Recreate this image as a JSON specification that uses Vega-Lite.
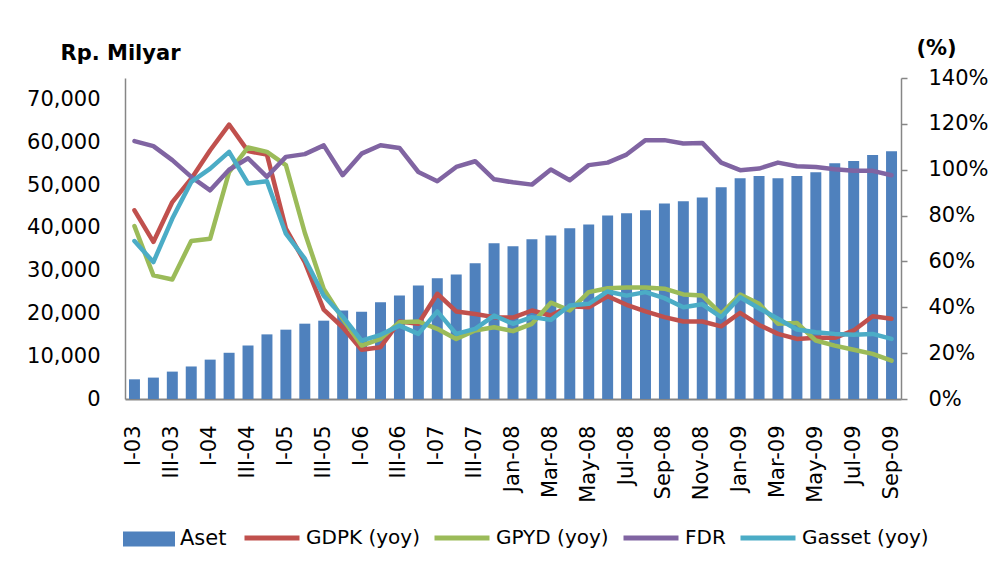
{
  "$schema": "https://vega.github.io/schema/vega-lite/v6.json",
  "width": 776,
  "height": 321,
  "autosize": {"type": "none"},
  "padding": {"left": 125, "top": 78, "right": 91, "bottom": 170},
  "background": "white",
  "config": {
    "view": {"stroke": null},
    "font": "DejaVu Sans",
    "axis": {"grid": false, "labelFont": "DejaVu Sans", "labelColor": "#000", "titleFont": "DejaVu Sans", "titleColor": "#000", "domainColor": "#868686", "tickColor": "#868686"},
    "legend": {"labelFont": "DejaVu Sans", "labelColor": "#000"}
  },
  "datasets": {
    "bars": [
      {"p": "I-03", "aset": 4600}, {"p": "II-03", "aset": 5000}, {"p": "III-03", "aset": 6400}, {"p": "IV-03", "aset": 7600},
      {"p": "I-04", "aset": 9200}, {"p": "II-04", "aset": 10800}, {"p": "III-04", "aset": 12500}, {"p": "IV-04", "aset": 15100},
      {"p": "I-05", "aset": 16200}, {"p": "II-05", "aset": 17600}, {"p": "III-05", "aset": 18300}, {"p": "IV-05", "aset": 20700},
      {"p": "I-06", "aset": 20400}, {"p": "II-06", "aset": 22600}, {"p": "III-06", "aset": 24200}, {"p": "IV-06", "aset": 26500},
      {"p": "I-07", "aset": 28200}, {"p": "II-07", "aset": 29100}, {"p": "III-07", "aset": 31700}, {"p": "IV-07", "aset": 36400},
      {"p": "Jan-08", "aset": 35700}, {"p": "Feb-08", "aset": 37300}, {"p": "Mar-08", "aset": 38200}, {"p": "Apr-08", "aset": 39900},
      {"p": "May-08", "aset": 40800}, {"p": "Jun-08", "aset": 42900}, {"p": "Jul-08", "aset": 43400}, {"p": "Aug-08", "aset": 44100},
      {"p": "Sep-08", "aset": 45700}, {"p": "Oct-08", "aset": 46200}, {"p": "Nov-08", "aset": 47100}, {"p": "Dec-08", "aset": 49500},
      {"p": "Jan-09", "aset": 51600}, {"p": "Feb-09", "aset": 52100}, {"p": "Mar-09", "aset": 51600}, {"p": "Apr-09", "aset": 52100},
      {"p": "May-09", "aset": 53000}, {"p": "Jun-09", "aset": 55100}, {"p": "Jul-09", "aset": 55600}, {"p": "Aug-09", "aset": 57000},
      {"p": "Sep-09", "aset": 57900}
    ],
    "lines": [
      {"p": "I-03", "s": "GDPK (yoy)", "v": 82.3}, {"p": "II-03", "s": "GDPK (yoy)", "v": 68.5}, {"p": "III-03", "s": "GDPK (yoy)", "v": 85.9}, {"p": "IV-03", "s": "GDPK (yoy)", "v": 96.1},
      {"p": "I-04", "s": "GDPK (yoy)", "v": 108.5}, {"p": "II-04", "s": "GDPK (yoy)", "v": 119.7}, {"p": "III-04", "s": "GDPK (yoy)", "v": 108.1}, {"p": "IV-04", "s": "GDPK (yoy)", "v": 106.6},
      {"p": "I-05", "s": "GDPK (yoy)", "v": 74.3}, {"p": "II-05", "s": "GDPK (yoy)", "v": 59.7}, {"p": "III-05", "s": "GDPK (yoy)", "v": 39}, {"p": "IV-05", "s": "GDPK (yoy)", "v": 31.3},
      {"p": "I-06", "s": "GDPK (yoy)", "v": 21.5}, {"p": "II-06", "s": "GDPK (yoy)", "v": 22.6}, {"p": "III-06", "s": "GDPK (yoy)", "v": 33.8}, {"p": "IV-06", "s": "GDPK (yoy)", "v": 32.8},
      {"p": "I-07", "s": "GDPK (yoy)", "v": 45.9}, {"p": "II-07", "s": "GDPK (yoy)", "v": 38.2}, {"p": "III-07", "s": "GDPK (yoy)", "v": 37.1}, {"p": "IV-07", "s": "GDPK (yoy)", "v": 35.7},
      {"p": "Jan-08", "s": "GDPK (yoy)", "v": 35.5}, {"p": "Feb-08", "s": "GDPK (yoy)", "v": 38.6}, {"p": "Mar-08", "s": "GDPK (yoy)", "v": 36.4}, {"p": "Apr-08", "s": "GDPK (yoy)", "v": 40.5},
      {"p": "May-08", "s": "GDPK (yoy)", "v": 40}, {"p": "Jun-08", "s": "GDPK (yoy)", "v": 44.8}, {"p": "Jul-08", "s": "GDPK (yoy)", "v": 41.1}, {"p": "Aug-08", "s": "GDPK (yoy)", "v": 38.2},
      {"p": "Sep-08", "s": "GDPK (yoy)", "v": 35.7}, {"p": "Oct-08", "s": "GDPK (yoy)", "v": 33.8}, {"p": "Nov-08", "s": "GDPK (yoy)", "v": 33.8}, {"p": "Dec-08", "s": "GDPK (yoy)", "v": 31.7},
      {"p": "Jan-09", "s": "GDPK (yoy)", "v": 37.6}, {"p": "Feb-09", "s": "GDPK (yoy)", "v": 32.3}, {"p": "Mar-09", "s": "GDPK (yoy)", "v": 28.4}, {"p": "Apr-09", "s": "GDPK (yoy)", "v": 26.2},
      {"p": "May-09", "s": "GDPK (yoy)", "v": 26.7}, {"p": "Jun-09", "s": "GDPK (yoy)", "v": 26.7}, {"p": "Jul-09", "s": "GDPK (yoy)", "v": 29.9}, {"p": "Aug-09", "s": "GDPK (yoy)", "v": 36.1},
      {"p": "Sep-09", "s": "GDPK (yoy)", "v": 35},

      {"p": "I-03", "s": "GPYD (yoy)", "v": 75.4}, {"p": "II-03", "s": "GPYD (yoy)", "v": 53.9}, {"p": "III-03", "s": "GPYD (yoy)", "v": 52.1}, {"p": "IV-03", "s": "GPYD (yoy)", "v": 68.9},
      {"p": "I-04", "s": "GPYD (yoy)", "v": 69.9}, {"p": "II-04", "s": "GPYD (yoy)", "v": 99}, {"p": "III-04", "s": "GPYD (yoy)", "v": 109.7}, {"p": "IV-04", "s": "GPYD (yoy)", "v": 107.8},
      {"p": "I-05", "s": "GPYD (yoy)", "v": 102}, {"p": "II-05", "s": "GPYD (yoy)", "v": 72.5}, {"p": "III-05", "s": "GPYD (yoy)", "v": 48}, {"p": "IV-05", "s": "GPYD (yoy)", "v": 35},
      {"p": "I-06", "s": "GPYD (yoy)", "v": 23.3}, {"p": "II-06", "s": "GPYD (yoy)", "v": 26.2}, {"p": "III-06", "s": "GPYD (yoy)", "v": 33.5}, {"p": "IV-06", "s": "GPYD (yoy)", "v": 33.8},
      {"p": "I-07", "s": "GPYD (yoy)", "v": 30.6}, {"p": "II-07", "s": "GPYD (yoy)", "v": 26.2}, {"p": "III-07", "s": "GPYD (yoy)", "v": 29.9}, {"p": "IV-07", "s": "GPYD (yoy)", "v": 31.3},
      {"p": "Jan-08", "s": "GPYD (yoy)", "v": 29.6}, {"p": "Feb-08", "s": "GPYD (yoy)", "v": 32.8}, {"p": "Mar-08", "s": "GPYD (yoy)", "v": 42}, {"p": "Apr-08", "s": "GPYD (yoy)", "v": 38.6},
      {"p": "May-08", "s": "GPYD (yoy)", "v": 46.6}, {"p": "Jun-08", "s": "GPYD (yoy)", "v": 48.3}, {"p": "Jul-08", "s": "GPYD (yoy)", "v": 48.6}, {"p": "Aug-08", "s": "GPYD (yoy)", "v": 48.6},
      {"p": "Sep-08", "s": "GPYD (yoy)", "v": 48.1}, {"p": "Oct-08", "s": "GPYD (yoy)", "v": 45.6}, {"p": "Nov-08", "s": "GPYD (yoy)", "v": 45.1}, {"p": "Dec-08", "s": "GPYD (yoy)", "v": 37.1},
      {"p": "Jan-09", "s": "GPYD (yoy)", "v": 45.6}, {"p": "Feb-09", "s": "GPYD (yoy)", "v": 41.5}, {"p": "Mar-09", "s": "GPYD (yoy)", "v": 32.8}, {"p": "Apr-09", "s": "GPYD (yoy)", "v": 33.2},
      {"p": "May-09", "s": "GPYD (yoy)", "v": 25.5}, {"p": "Jun-09", "s": "GPYD (yoy)", "v": 23.3}, {"p": "Jul-09", "s": "GPYD (yoy)", "v": 21.5}, {"p": "Aug-09", "s": "GPYD (yoy)", "v": 19.7},
      {"p": "Sep-09", "s": "GPYD (yoy)", "v": 16.7},

      {"p": "I-03", "s": "FDR", "v": 112.5}, {"p": "II-03", "s": "FDR", "v": 110.3}, {"p": "III-03", "s": "FDR", "v": 104.2}, {"p": "IV-03", "s": "FDR", "v": 96.9},
      {"p": "I-04", "s": "FDR", "v": 91}, {"p": "II-04", "s": "FDR", "v": 100}, {"p": "III-04", "s": "FDR", "v": 105}, {"p": "IV-04", "s": "FDR", "v": 96.9},
      {"p": "I-05", "s": "FDR", "v": 105.6}, {"p": "II-05", "s": "FDR", "v": 106.8}, {"p": "III-05", "s": "FDR", "v": 110.6}, {"p": "IV-05", "s": "FDR", "v": 97.6},
      {"p": "I-06", "s": "FDR", "v": 107}, {"p": "II-06", "s": "FDR", "v": 110.7}, {"p": "III-06", "s": "FDR", "v": 109.5}, {"p": "IV-06", "s": "FDR", "v": 99},
      {"p": "I-07", "s": "FDR", "v": 95}, {"p": "II-07", "s": "FDR", "v": 101.2}, {"p": "III-07", "s": "FDR", "v": 103.7}, {"p": "IV-07", "s": "FDR", "v": 95.8},
      {"p": "Jan-08", "s": "FDR", "v": 94.5}, {"p": "Feb-08", "s": "FDR", "v": 93.5}, {"p": "Mar-08", "s": "FDR", "v": 100.1}, {"p": "Apr-08", "s": "FDR", "v": 95.4},
      {"p": "May-08", "s": "FDR", "v": 102}, {"p": "Jun-08", "s": "FDR", "v": 103.1}, {"p": "Jul-08", "s": "FDR", "v": 106.6}, {"p": "Aug-08", "s": "FDR", "v": 112.9},
      {"p": "Sep-08", "s": "FDR", "v": 112.9}, {"p": "Oct-08", "s": "FDR", "v": 111.4}, {"p": "Nov-08", "s": "FDR", "v": 111.7}, {"p": "Dec-08", "s": "FDR", "v": 103.1},
      {"p": "Jan-09", "s": "FDR", "v": 99.8}, {"p": "Feb-09", "s": "FDR", "v": 100.5}, {"p": "Mar-09", "s": "FDR", "v": 103.1}, {"p": "Apr-09", "s": "FDR", "v": 101.5},
      {"p": "May-09", "s": "FDR", "v": 101.2}, {"p": "Jun-09", "s": "FDR", "v": 100.2}, {"p": "Jul-09", "s": "FDR", "v": 99.5}, {"p": "Aug-09", "s": "FDR", "v": 99.5},
      {"p": "Sep-09", "s": "FDR", "v": 97.6},

      {"p": "I-03", "s": "Gasset (yoy)", "v": 68.9}, {"p": "II-03", "s": "Gasset (yoy)", "v": 59.7}, {"p": "III-03", "s": "Gasset (yoy)", "v": 78.7}, {"p": "IV-03", "s": "Gasset (yoy)", "v": 94.7},
      {"p": "I-04", "s": "Gasset (yoy)", "v": 100.5}, {"p": "II-04", "s": "Gasset (yoy)", "v": 107.8}, {"p": "III-04", "s": "Gasset (yoy)", "v": 94}, {"p": "IV-04", "s": "Gasset (yoy)", "v": 95},
      {"p": "I-05", "s": "Gasset (yoy)", "v": 72.1}, {"p": "II-05", "s": "Gasset (yoy)", "v": 61.2}, {"p": "III-05", "s": "Gasset (yoy)", "v": 45}, {"p": "IV-05", "s": "Gasset (yoy)", "v": 36},
      {"p": "I-06", "s": "Gasset (yoy)", "v": 25.5}, {"p": "II-06", "s": "Gasset (yoy)", "v": 28}, {"p": "III-06", "s": "Gasset (yoy)", "v": 32}, {"p": "IV-06", "s": "Gasset (yoy)", "v": 28.4},
      {"p": "I-07", "s": "Gasset (yoy)", "v": 38.2}, {"p": "II-07", "s": "Gasset (yoy)", "v": 28.4}, {"p": "III-07", "s": "Gasset (yoy)", "v": 30.6}, {"p": "IV-07", "s": "Gasset (yoy)", "v": 36.4},
      {"p": "Jan-08", "s": "Gasset (yoy)", "v": 32.8}, {"p": "Feb-08", "s": "Gasset (yoy)", "v": 35.7}, {"p": "Mar-08", "s": "Gasset (yoy)", "v": 34.5}, {"p": "Apr-08", "s": "Gasset (yoy)", "v": 40.8},
      {"p": "May-08", "s": "Gasset (yoy)", "v": 41.5}, {"p": "Jun-08", "s": "Gasset (yoy)", "v": 46.9}, {"p": "Jul-08", "s": "Gasset (yoy)", "v": 45.1}, {"p": "Aug-08", "s": "Gasset (yoy)", "v": 46.6},
      {"p": "Sep-08", "s": "Gasset (yoy)", "v": 44}, {"p": "Oct-08", "s": "Gasset (yoy)", "v": 40}, {"p": "Nov-08", "s": "Gasset (yoy)", "v": 41.3}, {"p": "Dec-08", "s": "Gasset (yoy)", "v": 35.7},
      {"p": "Jan-09", "s": "Gasset (yoy)", "v": 44.4}, {"p": "Feb-09", "s": "Gasset (yoy)", "v": 39.6}, {"p": "Mar-09", "s": "Gasset (yoy)", "v": 35}, {"p": "Apr-09", "s": "Gasset (yoy)", "v": 30.3},
      {"p": "May-09", "s": "Gasset (yoy)", "v": 29.1}, {"p": "Jun-09", "s": "Gasset (yoy)", "v": 28.4}, {"p": "Jul-09", "s": "Gasset (yoy)", "v": 28}, {"p": "Aug-09", "s": "Gasset (yoy)", "v": 28.4},
      {"p": "Sep-09", "s": "Gasset (yoy)", "v": 26.2}
    ]
  },
  "layer": [
    {
      "data": {"name": "bars"},
      "mark": {"type": "bar"},
      "encoding": {
        "x": {
          "field": "p", "type": "ordinal",
          "scale": {
            "domain": ["I-03","II-03","III-03","IV-03","I-04","II-04","III-04","IV-04","I-05","II-05","III-05","IV-05","I-06","II-06","III-06","IV-06","I-07","II-07","III-07","IV-07","Jan-08","Feb-08","Mar-08","Apr-08","May-08","Jun-08","Jul-08","Aug-08","Sep-08","Oct-08","Nov-08","Dec-08","Jan-09","Feb-09","Mar-09","Apr-09","May-09","Jun-09","Jul-09","Aug-09","Sep-09"],
            "paddingInner": 0.42, "paddingOuter": 0.21
          },
          "axis": {
            "values": ["I-03","III-03","I-04","III-04","I-05","III-05","I-06","III-06","I-07","III-07","Jan-08","Mar-08","May-08","Jul-08","Sep-08","Nov-08","Jan-09","Mar-09","May-09","Jul-09","Sep-09"],
            "labelAngle": -90, "labelPadding": 26, "ticks": false, "tickSize": 0, "title": null,
            "labelFontSize": 21, "domainWidth": 2, "labelOverlap": false
          }
        },
        "y": {
          "field": "aset", "type": "quantitative",
          "scale": {"domain": [0, 75000], "nice": false},
          "axis": {
            "orient": "left", "values": [0,10000,20000,30000,40000,50000,60000,70000], "format": ",d",
            "title": "Rp. Milyar", "titleAngle": 0, "titleX": -5, "titleY": -25, "titleAlign": "center", "titleBaseline": "middle",
            "titleFontWeight": "bold", "titleFontSize": 21, "ticks": false, "tickSize": 0, "labelPadding": 25,
            "labelFontSize": 21, "domainWidth": 1.5
          }
        },
        "fill": {
          "datum": "Aset", "type": "nominal",
          "scale": {"domain": ["Aset"], "range": ["#4F81BD"]},
          "legend": {
            "orient": "none", "legendX": -2, "legendY": 435, "title": null, "padding": 0,
            "symbolType": "M-1,-0.29H1V0.29H-1Z", "symbolSize": 2704, "symbolStrokeWidth": 0,
            "labelFontSize": 21, "labelOffset": 5
          }
        }
      }
    },
    {
      "data": {"name": "lines"},
      "mark": {"type": "line", "strokeWidth": 4.5, "strokeJoin": "round", "strokeCap": "round"},
      "encoding": {
        "x": {"field": "p", "type": "ordinal"},
        "y": {
          "field": "v", "type": "quantitative",
          "scale": {"domain": [0, 140], "nice": false},
          "axis": {
            "orient": "right", "values": [0,20,40,60,80,100,120,140], "labelExpr": "datum.value + '%'",
            "title": "(%)", "titleAngle": 0, "titleX": 35, "titleY": -30, "titleAlign": "center", "titleBaseline": "middle",
            "titleFontWeight": "bold", "titleFontSize": 21, "ticks": true, "tickSize": 6, "labelPadding": 21,
            "labelFontSize": 21, "domainWidth": 1.5, "tickWidth": 1.5
          }
        },
        "stroke": {
          "field": "s", "type": "nominal",
          "scale": {"domain": ["GDPK (yoy)","GPYD (yoy)","FDR","Gasset (yoy)"], "range": ["#C0504D","#9BBB59","#8064A2","#4BACC6"]},
          "legend": {
            "orient": "none", "direction": "horizontal", "columns": 4, "legendX": 117, "legendY": 430, "title": null, "padding": 0,
            "symbolType": "stroke", "symbolSize": 3025, "symbolStrokeWidth": 5,
            "labelFontSize": 20, "labelOffset": 4, "columnPadding": 4
          }
        }
      }
    }
  ],
  "resolve": {"scale": {"y": "independent"}}
}
